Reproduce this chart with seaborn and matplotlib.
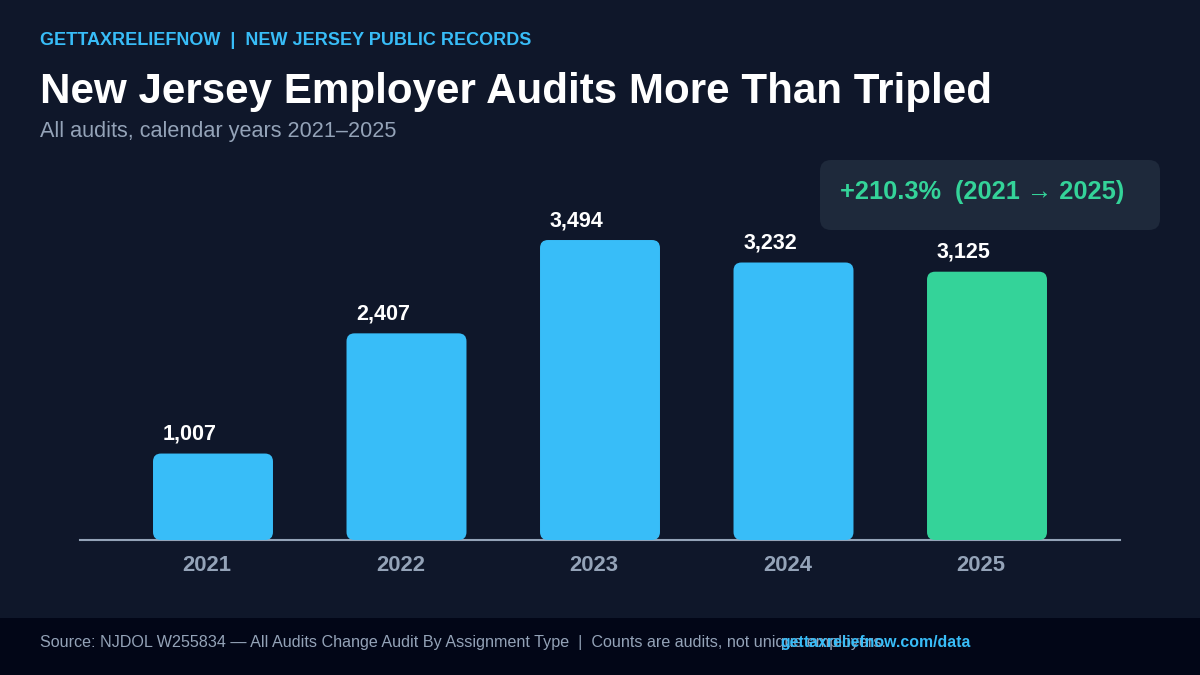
import matplotlib
matplotlib.use("Agg")
import matplotlib.pyplot as plt
import matplotlib.transforms as mtransforms
import seaborn as sns
import pandas as pd
from matplotlib.patches import FancyBboxPatch, Rectangle

# Data
years = ["2021", "2022", "2023", "2024", "2025"]
audits = [1007, 2407, 3494, 3232, 3125]
bar_colors = ["#38bdf8", "#38bdf8", "#38bdf8", "#38bdf8", "#34d399"]

df = pd.DataFrame({"year": years, "audits": audits})

# Colours
bg = "#0f172a"
footer_bg = "#020617"
grey = "#94a3b8"
blue = "#38bdf8"
green = "#34d399"

sns.set_style("dark")
plt.rcParams["font.family"] = ["Liberation Sans", "DejaVu Sans"]

fig = plt.figure(figsize=(12, 6.75), dpi=100, facecolor=bg)
W, H = 1200, 675

def fx(px):
    return px / W

def fy(py):
    return 1 - py / H

ax = fig.add_axes([fx(80), fy(540), fx(1040), 380 / H])
ax.set_facecolor(bg)

sns.barplot(data=df, x="year", y="audits", hue="year", palette=bar_colors,
            width=0.62, legend=False, ax=ax, saturation=1)

ax.set_xlim(-0.6873, 4.6873)
ax.set_ylim(0, 4426)

# swap plain bars for rounded ones
x_per_px = 5.3746 / 1040
y_per_px = 4426 / 380
rad = 8 * x_per_px
for bar in list(ax.patches):
    x0, y0 = bar.get_x(), bar.get_y()
    w, h = bar.get_width(), bar.get_height()
    col = bar.get_facecolor()
    bar.remove()
    ax.add_patch(FancyBboxPatch((x0, y0), w, h,
                                boxstyle=f"round,pad=0,rounding_size={rad}",
                                mutation_aspect=y_per_px / x_per_px,
                                facecolor=col, edgecolor="none", zorder=3))
    ax.annotate(f"{int(round(h)):,}", (x0, h), xytext=(10, 14),
                textcoords="offset pixels", ha="left", va="baseline",
                fontsize=15.5, fontweight="bold", color="white")

# axes styling
for side in ["top", "left", "right"]:
    ax.spines[side].set_visible(False)
ax.spines["bottom"].set_color(grey)
ax.spines["bottom"].set_linewidth(1.5)
ax.set_yticks([])
ax.set_xlabel("")
ax.set_ylabel("")
ax.grid(False)
ax.tick_params(axis="x", length=0, pad=11, labelsize=15.8, labelcolor=grey)
shift = mtransforms.ScaledTranslation(-6 / 100, 0, fig.dpi_scale_trans)
for lbl in ax.get_xticklabels():
    lbl.set_fontweight("bold")
    lbl.set_transform(lbl.get_transform() + shift)

# header texts
fig.text(fx(40), fy(45), "GETTAXRELIEFNOW  |  NEW JERSEY PUBLIC RECORDS",
         color=blue, fontsize=13, fontweight="bold", va="baseline")
fig.text(fx(40), fy(103), "New Jersey Employer Audits More Than Tripled",
         color="white", fontsize=30.35, fontweight="bold", va="baseline")
fig.text(fx(40), fy(137), "All audits, calendar years 2021\u20132025",
         color=grey, fontsize=15.6, va="baseline")

# callout box
box = FancyBboxPatch((fx(820), fy(230)), fx(340), 70 / H,
                     boxstyle=f"round,pad=0,rounding_size={fx(11)}",
                     mutation_aspect=W / H, transform=fig.transFigure,
                     facecolor="#1e293b", edgecolor="none")
fig.patches.append(box)
fig.text(fx(840), fy(199), "+210.3%  (2021 \u2192 2025)", color=green,
         fontsize=18.3, fontweight="bold", va="baseline")

# footer (link overlaps the source line, as in the original)
fig.patches.append(Rectangle((0, 0), 1, 57 / H, transform=fig.transFigure,
                             facecolor=footer_bg, edgecolor="none"))
fig.text(fx(40), fy(647),
         "Source: NJDOL W255834 \u2014 All Audits Change Audit By Assignment Type  |  "
         "Counts are audits, not unique employers.",
         color=grey, fontsize=11.6, va="baseline")
fig.text(fx(780), fy(647), "gettaxreliefnow.com/data", color=blue,
         fontsize=11.4, fontweight="bold", va="baseline")

plt.savefig("out.png", dpi=100, facecolor=bg)
